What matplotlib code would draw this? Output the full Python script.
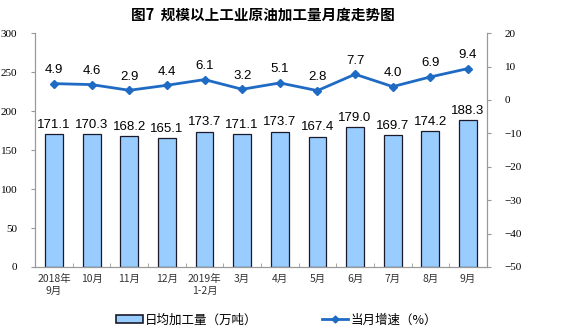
import matplotlib.pyplot as plt
import numpy as np
from matplotlib.lines import Line2D
from matplotlib.patches import Patch

plt.rcParams['font.family'] = ['Noto Sans CJK SC', 'DejaVu Sans']

months = ['2018年\n9月', '10月', '11月', '12月', '2019年\n1-2月', '3月',
          '4月', '5月', '6月', '7月', '8月', '9月']
daily_output = [171.1, 170.3, 168.2, 165.1, 173.7, 171.1,
                173.7, 167.4, 179.0, 169.7, 174.2, 188.3]
growth = [4.9, 4.6, 2.9, 4.4, 6.1, 3.2, 5.1, 2.8, 7.7, 4.0, 6.9, 9.4]

bar_color = '#99CCFF'
line_color = '#1F6BC4'

fig = plt.figure(figsize=(5.68, 3.35), dpi=100)
ax = fig.add_axes([0.062, 0.203, 0.795, 0.698])
ax2 = ax.twinx()

x = np.arange(len(months))
ax.bar(x, daily_output, width=0.47, color=bar_color, edgecolor='#1a1a2a', linewidth=0.9, zorder=2)
for xi, v in zip(x, daily_output):
    ax.text(xi, v + 4, f'{v:.1f}', ha='center', va='bottom', fontsize=9.5,
            family=['Liberation Sans', 'DejaVu Sans'])

ax2.plot(x, growth, color=line_color, linewidth=2, marker='D', markersize=4, zorder=3)
for xi, v in zip(x, growth):
    ax2.text(xi, v + 2.3, f'{v:.1f}', ha='center', va='bottom', fontsize=9.5,
             family=['Liberation Sans', 'DejaVu Sans'])

ax.set_xlim(-0.5, len(months) - 0.5)
ax.set_ylim(0, 300)
ax.set_yticks(range(0, 301, 50))
ax2.set_ylim(-50, 20)
ax2.set_yticks(range(-50, 21, 10))

ax.set_xticks(x)
ax.set_xticklabels(months, fontsize=7.5, color='#333333', linespacing=1.3)
ax.set_xticks(np.arange(-0.5, len(months), 1), minor=True)
ax.tick_params(axis='x', which='major', length=0, pad=5)
ax.tick_params(axis='x', which='minor', length=3, color='#999999', direction='in')

for a in (ax, ax2):
    for s in a.spines.values():
        s.set_color('#999999')
        s.set_linewidth(0.8)
    a.spines['top'].set_visible(False)
ax.tick_params(axis='y', length=3, color='#999999', labelsize=8, pad=10)
ax2.tick_params(axis='y', length=3, color='#999999', labelsize=8, pad=10)
for lab in ax.get_yticklabels() + ax2.get_yticklabels():
    lab.set_family(['Liberation Serif', 'DejaVu Serif'])

fig.text(0.463, 0.955, '图7  规模以上工业原油加工量月度走势图', ha='center', va='center',
         fontsize=10.5, fontweight='bold')

# two legend entries placed separately under the chart
bar_handle = Patch(facecolor=bar_color, edgecolor='#1a1a2a', linewidth=1.2)
line_handle = Line2D([0], [0], color=line_color, linewidth=2, marker='D', markersize=3.5)
leg1 = fig.legend([bar_handle], ['日均加工量（万吨）'], loc='center left',
                  bbox_to_anchor=(0.205, 0.045), frameon=False, fontsize=9,
                  handlelength=2.1, handleheight=0.55, handletextpad=0.2,
                  borderpad=0, borderaxespad=0)
fig.legend([line_handle], ['当月增速（%）'], loc='center left',
           bbox_to_anchor=(0.567, 0.045), frameon=False, fontsize=9,
           handlelength=2.1, handletextpad=0.2, borderpad=0, borderaxespad=0)

fig.savefig('out.png', dpi=100)
